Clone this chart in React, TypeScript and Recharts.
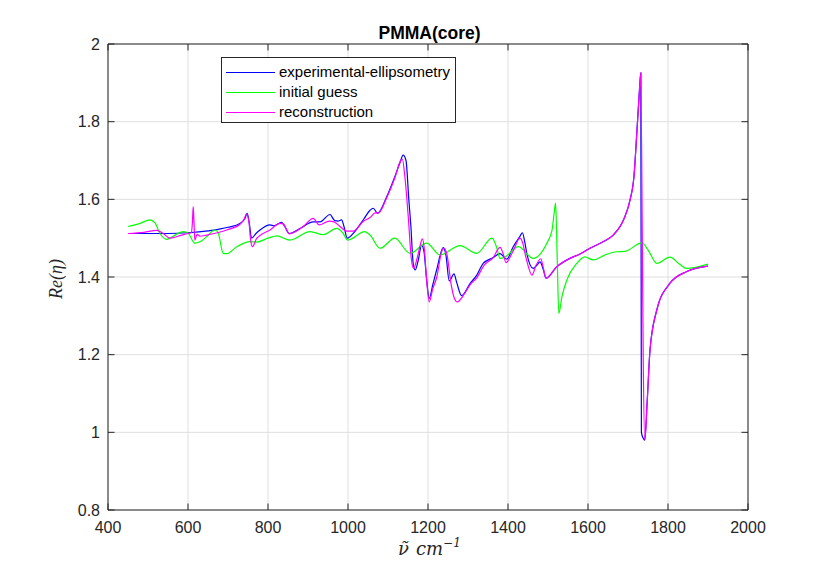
import React from 'react';
import { LineChart, Line, XAxis, YAxis, CartesianGrid, ReferenceLine } from 'recharts';

// wavenumber / Re(eta) readings, per series
const expX = [450, 500, 550, 600, 650, 700, 730, 742, 748, 753, 759, 770, 780, 805, 815, 834, 842, 853, 880, 913, 930, 955, 967, 975, 984, 990, 998, 1017, 1040, 1055, 1063, 1074, 1097, 1117, 1130, 1138, 1145, 1152, 1157, 1163, 1168, 1175, 1184, 1190, 1196, 1203, 1212, 1222, 1238, 1245, 1253, 1265, 1272, 1284, 1305, 1322, 1338, 1363, 1380, 1397, 1413, 1430, 1436, 1442, 1447, 1463, 1472, 1480, 1488, 1495, 1522, 1555, 1580, 1605, 1640, 1663, 1690, 1705, 1715, 1722, 1728, 1732, 1733.5, 1738, 1742, 1748, 1755, 1772, 1805, 1847, 1900];
const expY = [1.512, 1.512, 1.512, 1.514, 1.519, 1.528, 1.538, 1.55, 1.564, 1.54, 1.5, 1.512, 1.521, 1.534, 1.532, 1.541, 1.53, 1.512, 1.525, 1.542, 1.542, 1.561, 1.545, 1.544, 1.547, 1.53, 1.5, 1.517, 1.55, 1.572, 1.577, 1.564, 1.607, 1.658, 1.695, 1.714, 1.7, 1.6, 1.534, 1.435, 1.418, 1.44, 1.482, 1.465, 1.4, 1.345, 1.38, 1.42, 1.476, 1.455, 1.39, 1.408, 1.385, 1.352, 1.383, 1.405, 1.435, 1.45, 1.46, 1.446, 1.478, 1.505, 1.514, 1.49, 1.461, 1.422, 1.43, 1.439, 1.42, 1.397, 1.4265, 1.448, 1.459, 1.474, 1.492, 1.508, 1.55, 1.598, 1.66, 1.77, 1.87, 1.926, 1.0, 0.985, 0.98, 1.08, 1.212, 1.315, 1.384, 1.414, 1.428];

const guessX = [450, 480, 505, 517, 530, 547, 563, 588, 600, 617, 632, 647, 667, 675, 688, 697, 722, 755, 772, 800, 822, 855, 905, 938, 972, 986, 1000, 1042, 1055, 1080, 1117, 1155, 1197, 1230, 1280, 1322, 1360, 1372, 1380, 1390, 1426, 1463, 1497, 1510, 1516, 1519, 1523, 1527, 1535, 1547, 1572, 1592, 1613, 1645, 1672, 1692, 1735, 1750, 1772, 1805, 1830, 1847, 1870, 1900];
const guessY = [1.53, 1.538, 1.547, 1.54, 1.512, 1.497, 1.505, 1.517, 1.513, 1.487, 1.492, 1.504, 1.521, 1.515, 1.461, 1.46, 1.478, 1.491, 1.49, 1.5, 1.506, 1.495, 1.517, 1.509, 1.525, 1.515, 1.495, 1.517, 1.508, 1.474, 1.5, 1.461, 1.487, 1.457, 1.481, 1.461, 1.5, 1.475, 1.448, 1.45, 1.478, 1.448, 1.487, 1.52, 1.57, 1.59, 1.45, 1.306, 1.35, 1.392, 1.435, 1.452, 1.444, 1.458, 1.465, 1.466, 1.488, 1.47, 1.435, 1.451, 1.432, 1.422, 1.425, 1.433];

const reconX = [450, 490, 522, 538, 555, 575, 600, 608, 611, 613, 615, 617, 623, 630, 647, 697, 730, 740, 746, 752, 756, 761, 772, 805, 830, 838, 853, 888, 913, 928, 953, 965, 980, 997, 1013, 1038, 1055, 1068, 1076, 1097, 1117, 1132, 1136, 1142, 1151, 1158, 1164, 1172, 1180, 1186, 1191, 1196, 1203, 1212, 1222, 1234, 1240, 1247, 1258, 1266, 1273, 1290, 1305, 1322, 1340, 1363, 1380, 1388, 1395, 1412, 1430, 1436, 1445, 1460, 1470, 1482, 1488, 1495, 1522, 1555, 1580, 1605, 1640, 1663, 1690, 1705, 1715, 1722, 1728, 1732, 1735, 1738, 1742, 1748, 1755, 1772, 1805, 1847, 1900];
const reconY = [1.512, 1.515, 1.52, 1.512, 1.5, 1.505, 1.512, 1.514, 1.54, 1.581, 1.54, 1.495, 1.51, 1.505, 1.508, 1.521, 1.536, 1.548, 1.562, 1.545, 1.5, 1.478, 1.5, 1.521, 1.538, 1.537, 1.511, 1.53, 1.551, 1.534, 1.544, 1.542, 1.53, 1.518, 1.518, 1.543, 1.553, 1.565, 1.565, 1.605, 1.655, 1.7, 1.703, 1.66, 1.55, 1.45, 1.422, 1.445, 1.48, 1.498, 1.47, 1.4, 1.336, 1.37, 1.4, 1.465, 1.474, 1.46, 1.38, 1.345, 1.336, 1.355, 1.38, 1.398, 1.43, 1.45, 1.4765, 1.46, 1.437, 1.465, 1.5, 1.49, 1.45, 1.405, 1.43, 1.447, 1.425, 1.397, 1.4265, 1.448, 1.459, 1.474, 1.492, 1.508, 1.55, 1.598, 1.66, 1.77, 1.87, 1.926, 1.6, 1.2, 0.98, 1.08, 1.212, 1.315, 1.384, 1.414, 1.428];

const xTicks = [400, 600, 800, 1000, 1200, 1400, 1600, 1800, 2000];
const yTicks = [0.8, 1, 1.2, 1.4, 1.6, 1.8, 2];

const seriesNames = ['experimental-ellipsometry', 'initial guess', 'reconstruction'];
const seriesColors = ['#0000ff', '#00ff00', '#ff00ff'];

const zip = (xs: number[], ys: number[]) => xs.map((x, i) => ({ x, y: ys[i] }));
const expData = zip(expX, expY);
const guessData = zip(guessX, guessY);
const reconData = zip(reconX, reconY);

const AXIS = '#262626';
const PLOT = { left: 108, top: 44, right: 748, bottom: 510 };
const SANS = '"Liberation Sans", Arial, Helvetica, sans-serif';
const SERIF = '"Liberation Serif", "DejaVu Serif", serif';

const XTick = (props: any) => {
  const { x, payload } = props;
  return (
    <g>
      <line x1={x} x2={x} y1={PLOT.bottom} y2={PLOT.bottom - 6.5} stroke={AXIS} />
      <line x1={x} x2={x} y1={PLOT.top} y2={PLOT.top + 6.5} stroke={AXIS} />
      <text x={x} y={533} textAnchor="middle" fill={AXIS} fontSize={16} fontFamily={SANS}>
        {payload.value}
      </text>
    </g>
  );
};

const YTick = (props: any) => {
  const { y, payload } = props;
  return (
    <g>
      <line x1={PLOT.left} x2={PLOT.left + 6.5} y1={y} y2={y} stroke={AXIS} />
      <line x1={PLOT.right} x2={PLOT.right - 6.5} y1={y} y2={y} stroke={AXIS} />
      <text x={100} y={y + 5.8} textAnchor="end" fill={AXIS} fontSize={16} fontFamily={SANS}>
        {String(Math.round(payload.value * 10) / 10)}
      </text>
    </g>
  );
};

export default function App() {
  return (
    <div style={{ position: 'absolute', left: 0, top: 0, width: 830, height: 573, background: '#fff' }}>
      <LineChart width={830} height={573} margin={{ top: 44, right: 82, bottom: 23, left: 48 }}>
        <CartesianGrid stroke="#dfdfdf" strokeWidth={1} />
        <XAxis
          type="number"
          dataKey="x"
          domain={[400, 2000]}
          ticks={xTicks}
          height={40}
          allowDataOverflow
          tickLine={false}
          axisLine={{ stroke: AXIS }}
          tick={<XTick />}
        />
        <YAxis
          type="number"
          domain={[0.8, 2]}
          ticks={yTicks}
          width={60}
          allowDataOverflow
          tickLine={false}
          axisLine={{ stroke: AXIS }}
          tick={<YTick />}
        />
        <ReferenceLine y={2} stroke={AXIS} />
        <ReferenceLine x={2000} stroke={AXIS} />
        <Line data={expData} dataKey="y" type="monotone" stroke={seriesColors[0]} strokeWidth={1.2} dot={false} isAnimationActive={false} />
        <Line data={guessData} dataKey="y" type="monotone" stroke={seriesColors[1]} strokeWidth={1.2} dot={false} isAnimationActive={false} />
        <Line data={reconData} dataKey="y" type="monotone" stroke={seriesColors[2]} strokeWidth={1.2} dot={false} isAnimationActive={false} />
      </LineChart>

      <svg width={830} height={573} style={{ position: 'absolute', left: 0, top: 0, pointerEvents: 'none' }}>
        <text x={429.5} y={39} textAnchor="middle" fontSize={17.5} fontWeight="bold" fontFamily={SANS} fill="#000">
          PMMA(core)
        </text>
        <text x={398} y={555} fontSize={18} fontStyle="italic" fontFamily='"DejaVu Serif", serif' fill={AXIS}>
          {'\u03BD\u0303'}
          <tspan dx={7}>cm</tspan>
          <tspan dy={-8} fontSize={12}>{'\u22121'}</tspan>
        </text>
        <text
          x={62}
          y={279}
          transform="rotate(-90 62 279)"
          textAnchor="middle"
          fontSize={18}
          fontStyle="italic"
          fontFamily={SERIF}
          fill={AXIS}
        >
          {'Re(\u03B7)'}
        </text>
      </svg>

      <div
        style={{
          position: 'absolute',
          left: 221,
          top: 57,
          width: 235,
          height: 66,
          boxSizing: 'border-box',
          border: `1px solid ${AXIS}`,
          background: '#fff',
          paddingTop: 4,
          fontFamily: SANS,
          fontSize: 15,
          color: '#000',
        }}
      >
        {seriesNames.map((name, i) => (
          <div key={name} style={{ display: 'flex', alignItems: 'center', height: 20 }}>
            <span style={{ display: 'inline-block', marginLeft: 4, width: 49, height: 0, borderTop: `1.2px solid ${seriesColors[i]}` }} />
            <span style={{ marginLeft: 4, lineHeight: '20px' }}>{name}</span>
          </div>
        ))}
      </div>
    </div>
  );
}
